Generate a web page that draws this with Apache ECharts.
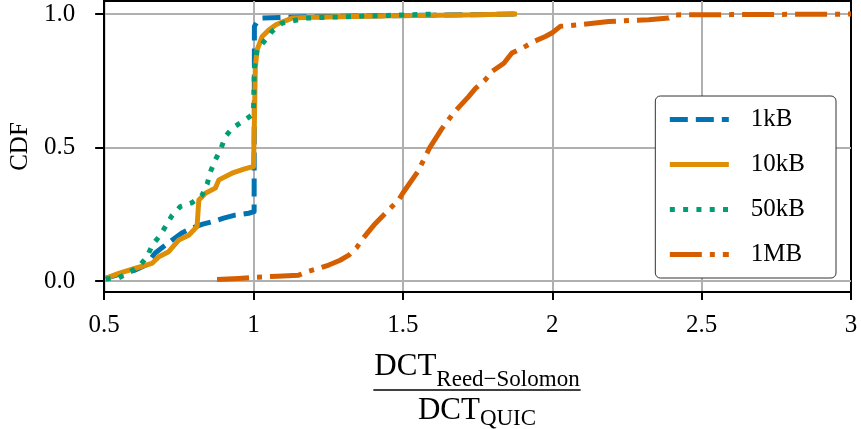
<!DOCTYPE html>
<html>
<head>
<meta charset="utf-8">
<script src="https://cdn.jsdelivr.net/npm/echarts@6/dist/echarts.min.js"></script>
<style>
  html, body { margin: 0; padding: 0; background: #fff; }
  #chart { width: 861px; height: 429px; }
</style>
</head>
<body>
<div id="chart"></div>
<script>
// DCT ratio (Reed-Solomon / QUIC) against cumulative fraction, per transfer size
const seriesNames = ['1kB', '10kB', '50kB', '1MB'];

const ratio1kB = [0.505, 0.55, 0.604, 0.64, 0.671, 0.70, 0.728, 0.76, 0.795, 0.83, 0.861, 0.90, 0.938, 0.984, 1.002, 1.003, 1.012, 1.03, 1.1, 1.3, 1.6, 1.88];
const cdf1kB   = [0.01, 0.025, 0.041, 0.06, 0.105, 0.13, 0.154, 0.18, 0.199, 0.213, 0.222, 0.236, 0.247, 0.254, 0.26, 0.954, 0.972, 0.985, 0.988, 0.992, 0.996, 1.0];

const ratio10kB = [0.505, 0.549, 0.605, 0.66, 0.683, 0.716, 0.75, 0.783, 0.811, 0.817, 0.839, 0.872, 0.884, 0.928, 0.97, 1.0, 1.003, 1.006, 1.012, 1.029, 1.051, 1.075, 1.1, 1.129, 1.2, 1.464, 1.7, 1.882];
const cdf10kB   = [0.01, 0.029, 0.048, 0.066, 0.091, 0.11, 0.154, 0.172, 0.204, 0.304, 0.329, 0.348, 0.379, 0.404, 0.42, 0.429, 0.60, 0.80, 0.866, 0.916, 0.94, 0.96, 0.972, 0.985, 0.988, 0.994, 0.997, 1.0];

const ratio50kB = [0.505, 0.549, 0.588, 0.62, 0.644, 0.661, 0.688, 0.728, 0.755, 0.795, 0.828, 0.845, 0.856, 0.872, 0.889, 0.906, 0.928, 0.962, 0.995, 1.0, 1.003, 1.012, 1.04, 1.062, 1.096, 1.174, 1.3, 1.45, 1.609];
const cdf50kB   = [0.008, 0.012, 0.035, 0.06, 0.091, 0.135, 0.172, 0.247, 0.279, 0.294, 0.322, 0.364, 0.41, 0.454, 0.491, 0.541, 0.572, 0.597, 0.622, 0.64, 0.80, 0.866, 0.904, 0.935, 0.966, 0.985, 0.99, 0.995, 1.0];

const ratio1MB = [0.878, 0.95, 1.006, 1.08, 1.151, 1.185, 1.22, 1.252, 1.29, 1.319, 1.345, 1.363, 1.385, 1.408, 1.441, 1.486, 1.5, 1.55, 1.59, 1.63, 1.67, 1.72, 1.743, 1.776, 1.798, 1.838, 1.865, 1.91, 1.938, 1.977, 2.0, 2.027, 2.089, 2.189, 2.323, 2.39, 2.412, 2.6, 2.8, 3.0];
const cdf1MB   = [0.006, 0.01, 0.014, 0.018, 0.022, 0.037, 0.048, 0.06, 0.078, 0.097, 0.125, 0.154, 0.185, 0.216, 0.254, 0.304, 0.33, 0.41, 0.5, 0.57, 0.63, 0.691, 0.722, 0.754, 0.785, 0.816, 0.854, 0.879, 0.897, 0.916, 0.93, 0.954, 0.96, 0.972, 0.979, 0.985, 0.997, 0.998, 0.999, 1.0];

const xTicks = [0.5, 1, 1.5, 2, 2.5, 3];
const yTicks = [0, 0.5, 1];

const colors = ['#0173b2', '#de8f05', '#029e73', '#d55e00'];
const dashes = [[18, 8], null, [5, 8.3], [32, 8, 5, 8]];
const lineW = 5;
const FONT = '"Liberation Serif", "DejaVu Serif", serif';

function pairs(xs, ys) { return xs.map((x, i) => [x, ys[i]]); }
const allData = [pairs(ratio1kB, cdf1kB), pairs(ratio10kB, cdf10kB), pairs(ratio50kB, cdf50kB), pairs(ratio1MB, cdf1MB)];

// text measuring for the fraction-style axis title
const mctx = document.createElement('canvas').getContext('2d');
function textW(t, size) { mctx.font = size + 'px ' + FONT; return mctx.measureText(t).width; }

const bigSize = 31, subSize = 23;
const numMain = 'DCT', numSub = 'Reed\u2212Solomon';
const denMain = 'DCT', denSub = 'QUIC';
const cx = 477;
const numW = textW(numMain, bigSize) + textW(numSub, subSize);
const denW = textW(denMain, bigSize) + textW(denSub, subSize);
const numLeft = cx - numW / 2;
const denLeft = cx - denW / 2;
const barHalf = numW / 2 + 1;

function txt(text, x, y, size) {
  return {
    type: 'text', x: x, y: y, silent: true,
    style: { text: text, fontSize: size, fontFamily: FONT, fill: '#000',
             align: 'left', verticalAlign: 'middle', textAlign: 'left', textVerticalAlign: 'middle' }
  };
}

const chart = echarts.init(document.getElementById('chart'), null, { renderer: 'canvas' });

chart.setOption({
  animation: false,
  backgroundColor: '#fff',
  grid: { left: 102, right: 10, top: 1, bottom: 137, show: true, borderColor: '#000', borderWidth: 2, containLabel: false },
  xAxis: {
    type: 'value', min: 0.5, max: 3, interval: 0.5,
    axisLine: { show: true, onZero: false, lineStyle: { color: '#000', width: 2 } },
    axisTick: { show: true, inside: false, length: 8, lineStyle: { color: '#000', width: 2 } },
    axisLabel: { margin: 21, fontSize: 25, fontFamily: FONT, color: '#000',
                 formatter: v => String(v) },
    splitLine: { show: true, showMinLine: false, showMaxLine: false, lineStyle: { color: '#b0b0b0', width: 2 } }
  },
  yAxis: {
    type: 'value', min: -0.041, max: 1.049,
    name: 'CDF', nameLocation: 'middle', nameGap: 70, nameRotate: 90,
    nameTextStyle: { fontSize: 25, fontFamily: FONT, color: '#000' },
    axisLine: { show: true, onZero: false, lineStyle: { color: '#000', width: 2 } },
    axisTick: { show: true, inside: false, length: 9, customValues: yTicks, lineStyle: { color: '#000', width: 2 } },
    axisLabel: { margin: 29, fontSize: 25, fontFamily: FONT, color: '#000', customValues: yTicks,
                 formatter: v => v.toFixed(1) },
    splitLine: { show: true, lineStyle: { color: '#b0b0b0', width: 2 } }
  },
  legend: {
    orient: 'vertical', right: 25, top: 96,
    padding: [11, 31, 11, 12],
    itemWidth: 59, itemHeight: 24, itemGap: 20,
    backgroundColor: '#fff', borderColor: '#333', borderWidth: 1, borderRadius: 5,
    itemStyle: { opacity: 0 },
    lineStyle: { width: lineW },
    textStyle: { fontSize: 25, fontFamily: FONT, color: '#000', padding: [0, 0, 0, 17] },
    data: seriesNames
  },
  series: seriesNames.map((name, i) => ({
    name: name, type: 'line', data: allData[i],
    showSymbol: false, symbol: 'none', clip: false, smooth: false,
    color: colors[i],
    lineStyle: { color: colors[i], width: lineW, type: dashes[i] || 'solid', cap: 'butt', join: 'round' },
    z: 2 + i
  })),
  graphic: [
    txt(numMain, numLeft, 367, bigSize),
    txt(numSub, numLeft + textW(numMain, bigSize), 380, subSize),
    {
      type: 'line', silent: true,
      shape: { x1: cx - barHalf, y1: 390, x2: cx + barHalf, y2: 390 },
      style: { stroke: '#000', lineWidth: 1.6 }
    },
    txt(denMain, denLeft, 411, bigSize),
    txt(denSub, denLeft + textW(denMain, bigSize), 419, subSize)
  ]
});
</script>
</body>
</html>
